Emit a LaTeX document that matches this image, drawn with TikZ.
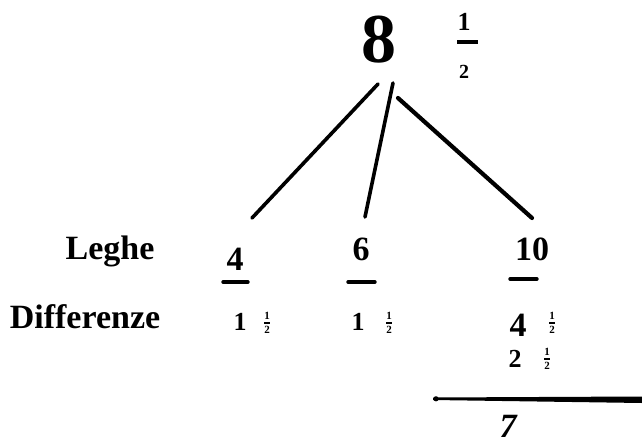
\documentclass[tikz,border=0pt]{standalone}
\usepackage{amsmath}
\usepackage{fontspec}
\setmainfont{Liberation Serif}
\newcommand{\half}{\ensuremath{\genfrac{}{}{2pt}{}{\hbox{\bfseries\fontsize{11}{11}\selectfont 1}}{\hbox{\bfseries\fontsize{11}{11}\selectfont 2}}}}
\begin{document}
\begin{tikzpicture}[x=1pt,y=-1pt,
  word/.style={anchor=base,inner sep=0pt,font=\bfseries\fontsize{34}{34}\selectfont},
  small/.style={anchor=base,inner sep=0pt,font=\bfseries\fontsize{26}{26}\selectfont},
  frac/.style={inner sep=0pt},
  branch/.style={line width=3.6pt,line cap=round},
  bone/.style={line width=3.4pt,line cap=round}]
\useasboundingbox (0,0) rectangle (642,447);
% top number
\node[word,font=\bfseries\fontsize{70}{70}\selectfont] (eight) at (379,62) {8};
\node[small] (tnum) at (464,30) {1};
\draw[line width=3.6pt] (457,42) -- (478,42);
\node[word,font=\bfseries\fontsize{20}{20}\selectfont] (tden) at (464,78) {2};
% branches
\coordinate (s4) at (378,84);
\coordinate (s6) at (393,83);
\coordinate (s10) at (398,98);
\coordinate (e4) at (252,218);
\coordinate (e6) at (365,217);
\coordinate (e10) at (532,218);
\draw[branch] (s4) -- (e4);
\draw[branch] (s6) -- (e6);
\draw[branch,line width=4.2pt] (s10) -- (e10);
% leghe
\node[word] (leghe) at (110,259) {Leghe};
\node[word] (l4) at (235,270) {4};
\node[word] (l6) at (361,260) {6};
\node[word] (l10) at (532,260) {10};
\draw[bone] (223,282) -- (248,282);
\draw[bone] (348,282) -- (375,282);
\draw[bone] (510,279) -- (537,279);
% differenze
\node[word] (diff) at (85,328) {Differenze};
\node[small] (d4) at (240,330) {1};
\node[frac] (h4) at (267,323) {\half};
\node[small] (d6) at (358,330) {1};
\node[frac] (h6) at (389,323) {\half};
\node[word] (d10) at (518,336) {4};
\node[frac] (h10) at (552,323) {\half};
\node[small] (d10b) at (515,367) {2};
\node[frac] (h10b) at (547,359) {\half};
% sum
\fill (433,397.5) -- (642,396.5) -- (642,403) -- (433,400) -- cycle;
\fill (436,398.8) circle (2.6pt);
\node[word,font=\bfseries\itshape\fontsize{34}{34}\selectfont] (sum) at (508,437) {7};
\end{tikzpicture}
\end{document}
